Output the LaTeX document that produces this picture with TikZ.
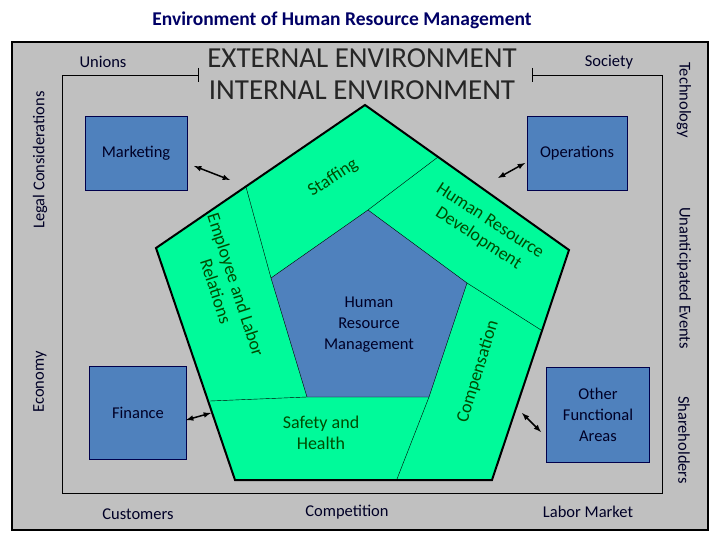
\documentclass[tikz,border=0pt]{standalone}
\usepackage{fontspec}
\setmainfont{Carlito}
\begin{document}
\begin{tikzpicture}[x=1pt,y=-1pt,
  lab/.style={font=\fontsize{16.5}{21}\selectfont, text=black!85!blue, align=center},
  glab/.style={font=\fontsize{18}{21}\selectfont, text=green!30!black, align=center},
  box/.style={draw=blue!30!black, fill=bxblue},
  arr/.style={<->, >=latex, line width=1.5pt},
  env/.style={font=\fontsize{29}{30}\selectfont, text=black!85}]
\definecolor{bgg}{HTML}{C0C0C0}
\definecolor{bxblue}{HTML}{4F81BD}
\definecolor{pgreen}{HTML}{00FA9A}
\useasboundingbox (0,0) rectangle (720,540);
\fill[white] (0,0) rectangle (720,540);
\node[font=\fontsize{19.5}{22}\selectfont\bfseries, text=blue!40!black] (title) at (342,20) {Environment of Human Resource Management};
\draw[line width=2pt, fill=bgg] (12,42) rectangle (708,530);
% inner environment boundary
\draw (198,68) -- (198,82);
\draw (532,68) -- (532,82);
\draw (198,75) -- (62,75) -- (62,493) -- (662,493) -- (662,75) -- (532,75);
\node[env] (ext) at (362,58) {EXTERNAL ENVIRONMENT};
\node[env] (int) at (362,90) {INTERNAL ENVIRONMENT};
% boxes
\node[box, minimum width=102pt, minimum height=74pt] (mkt) at (136,153) {};
\node[lab] at (mkt) {Marketing};
\node[box, minimum width=100pt, minimum height=74pt] (ops) at (577,153) {};
\node[lab] at (ops) {Operations};
\node[box, minimum width=97pt, minimum height=93pt] (fin) at (138,413) {};
\node[lab] at (fin) {Finance};
\node[box, minimum width=103pt, minimum height=95pt] (ofa) at (598,415) {};
\node[lab] (ofat) at (ofa) {Other\\Functional\\Areas};
% pentagon
\coordinate (T) at (365,105);
\coordinate (L) at (156,248);
\coordinate (R) at (569,250);
\coordinate (BL) at (235,480);
\coordinate (BR) at (492,480);
\coordinate (iT) at (368,210);
\coordinate (iL) at (271,278);
\coordinate (iR) at (467,283);
\coordinate (iBL) at (307,397);
\coordinate (iBR) at (429,397);
\draw[line width=2pt, fill=pgreen] (T) -- (R) -- (BR) -- (BL) -- (L) -- cycle;
\draw[fill=bxblue] (iT) -- (iR) -- (iBR) -- (iBL) -- (iL) -- cycle;
\coordinate (d1) at (438,157);
\coordinate (d2) at (246,187);
\coordinate (d3) at (210,401);
\coordinate (d4) at (397,479);
\coordinate (d5) at (541,330);
\draw (iT) -- (d1);
\draw (iL) -- (d2);
\draw (iBL) -- (d3);
\draw (iBR) -- (d4);
\draw (iR) -- (d5);
\node[lab] (hrm) at (369,325) {Human\\Resource\\Management};
\node[glab, rotate=33] (staff) at (333,178) {Staffing};
\node[glab, rotate=-33] (hrd) at (484,230) {Human Resource\\Development};
\node[glab, rotate=-72] (elr) at (226,288) {Employee and Labor\\Relations};
\node[glab, rotate=73] (comp) at (478,372) {Compensation};
\node[glab] (safe) at (321,433) {Safety and\\Health};
% arrows
\coordinate (a1) at (194,166); \coordinate (a2) at (230,180);
\coordinate (b1) at (498,178); \coordinate (b2) at (525,163);
\coordinate (c1) at (186,420); \coordinate (c2) at (211,413);
\coordinate (e1) at (522,413); \coordinate (e2) at (541,432);
\draw[arr] (a1) -- (a2);
\draw[arr] (b1) -- (b2);
\draw[arr] (c1) -- (c2);
\draw[arr] (e1) -- (e2);
% external labels
\node[lab] (un) at (103,62) {Unions};
\node[lab] (soc) at (609,62) {Society};
\node[lab] (cus) at (138,514) {Customers};
\node[lab] (cmp) at (347,512) {Competition};
\node[lab] (lab) at (588,512) {Labor Market};
\node[lab, rotate=90] (legal) at (40,160) {Legal Considerations};
\node[lab, rotate=90] (eco) at (40,382) {Economy};
\node[lab, rotate=-90] (tech) at (684,100) {Technology};
\node[lab, rotate=-90] (ue) at (684,278) {Unanticipated Events};
\node[lab, rotate=-90] (sh) at (684,440) {Shareholders};
\end{tikzpicture}
\end{document}
